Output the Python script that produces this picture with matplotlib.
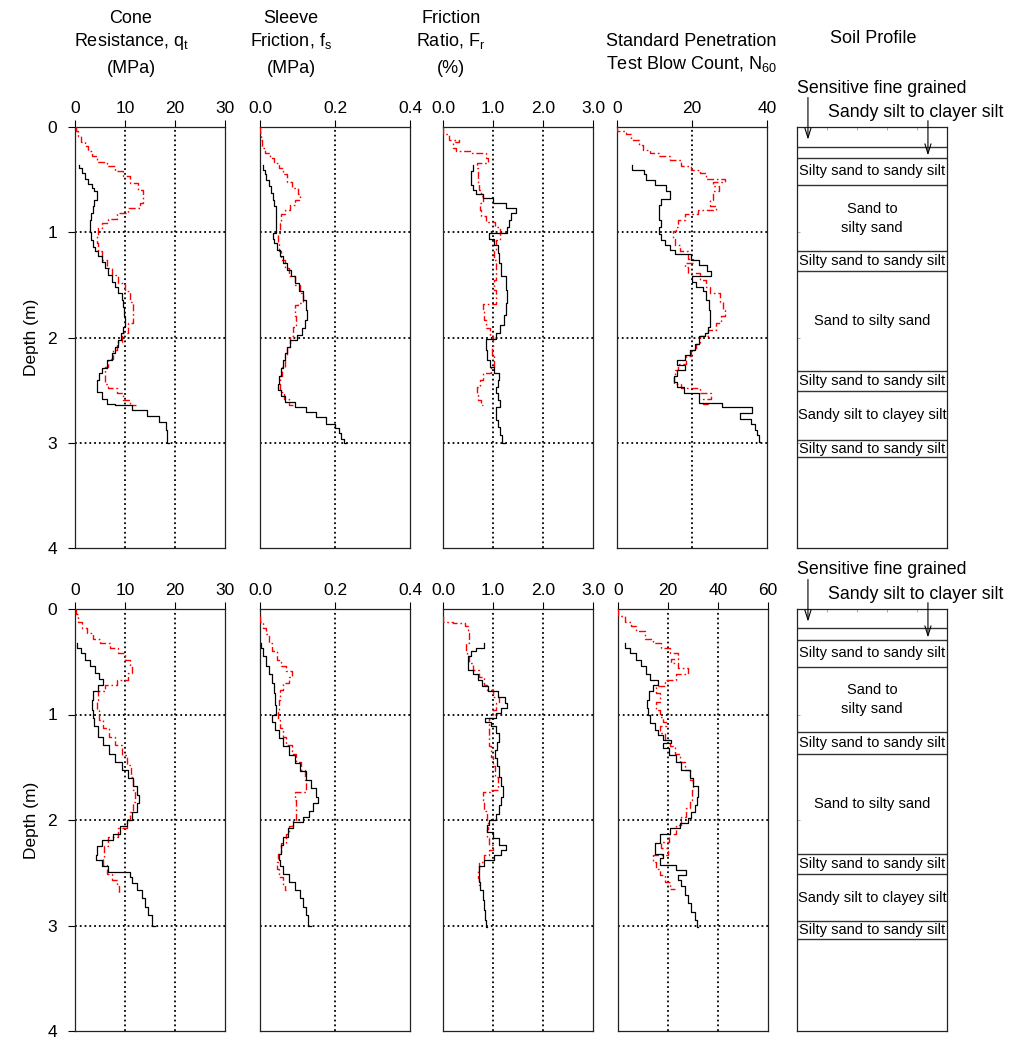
import matplotlib
matplotlib.use("Agg")
import matplotlib.pyplot as plt

plt.rcParams['font.family'] = ['Liberation Sans', 'DejaVu Sans']
plt.rcParams['mathtext.fontset'] = 'custom'
plt.rcParams['mathtext.rm'] = 'Liberation Sans'
plt.rcParams['mathtext.it'] = 'Liberation Sans'

# ---------------------------------------------------------------- data
# Upper site: cone resistance qt (MPa)
top_qt_meas_depth = [0.36, 0.39, 0.44, 0.49, 0.54, 0.58, 0.61, 0.69, 0.75, 0.82, 0.88, 1.00, 1.07, 1.14,
                     1.18, 1.23, 1.28, 1.34, 1.41, 1.47, 1.52, 1.58, 1.64, 1.71, 1.80, 1.90, 1.96, 2.02,
                     2.09, 2.15, 2.21, 2.29, 2.34, 2.40, 2.47, 2.52, 2.58, 2.63, 2.64, 2.68, 2.69, 2.74,
                     2.75, 2.80, 2.88, 3.00]
top_qt_meas = [0.86, 1.3, 2.0, 2.65, 3.3, 3.85, 4.3, 3.85, 3.5, 3.2, 3.0, 3.2, 3.65, 4.0,
               4.6, 5.3, 6.0, 6.6, 7.3, 8.0, 8.6, 9.3, 9.6, 9.8, 10.0, 9.6, 9.2, 8.6,
               8.0, 7.3, 6.3, 5.3, 4.8, 4.3, 4.45, 5.3, 6.3, 8.0, 11.3, 11.3, 14.4, 14.4,
               16.8, 18.25, 18.45, 18.8]
top_qt_est_depth = [0.00, 0.04, 0.09, 0.14, 0.18, 0.23, 0.28, 0.33, 0.37, 0.42, 0.47, 0.53, 0.60, 0.66,
                    0.72, 0.77, 0.82, 0.87, 0.91, 0.96, 1.02, 1.10, 1.18, 1.26, 1.34, 1.41, 1.48, 1.56,
                    1.66, 1.77, 1.86, 1.96, 2.04, 2.12, 2.20, 2.28, 2.37, 2.44, 2.48, 2.53, 2.59, 2.64]
top_qt_est = [0.2, 0.66, 1.1, 2.0, 2.65, 3.3, 4.3, 6.3, 8.0, 9.6, 10.9, 12.6, 13.6, 13.6,
              12.9, 10.6, 8.3, 6.6, 5.3, 4.6, 4.3, 4.6, 5.3, 6.3, 7.3, 8.6, 10.0, 10.9,
              11.5, 11.6, 10.6, 9.3, 8.3, 7.6, 6.6, 6.0, 6.0, 6.6, 8.3, 9.6, 10.9, 12.1]

# Upper site: sleeve friction fs (MPa)
top_fs_meas_depth = [0.36, 0.41, 0.45, 0.50, 0.56, 0.63, 0.69, 0.75, 0.82, 0.88, 0.95, 1.01, 1.06, 1.10,
                     1.17, 1.23, 1.29, 1.36, 1.42, 1.48, 1.56, 1.64, 1.74, 1.83, 1.91, 1.98, 2.02, 2.09,
                     2.15, 2.21, 2.29, 2.37, 2.44, 2.50, 2.56, 2.61, 2.66, 2.71, 2.76, 2.82, 2.86, 2.91,
                     2.96, 3.00]
top_fs_meas = [0.009, 0.012, 0.017, 0.024, 0.030, 0.035, 0.038, 0.042, 0.042, 0.042, 0.043, 0.035, 0.037, 0.044,
               0.052, 0.061, 0.072, 0.082, 0.093, 0.105, 0.115, 0.122, 0.126, 0.120, 0.111, 0.098, 0.079, 0.072,
               0.066, 0.060, 0.056, 0.050, 0.048, 0.056, 0.067, 0.093, 0.122, 0.150, 0.175, 0.201, 0.210, 0.216,
               0.224, 0.229]
top_fs_est_depth = [0.00, 0.06, 0.12, 0.20, 0.25, 0.29, 0.34, 0.39, 0.45, 0.52, 0.58, 0.64, 0.69, 0.74,
                    0.79, 0.83, 0.91, 1.01, 1.10, 1.18, 1.26, 1.34, 1.42, 1.50, 1.58, 1.67, 1.69, 1.80,
                    1.90, 1.99, 2.09, 2.18, 2.28, 2.37, 2.45, 2.52, 2.58, 2.64]
top_fs_est = [0.0, 0.002, 0.006, 0.012, 0.026, 0.037, 0.050, 0.061, 0.072, 0.085, 0.102, 0.107, 0.093, 0.080,
              0.067, 0.056, 0.052, 0.048, 0.050, 0.056, 0.067, 0.078, 0.093, 0.107, 0.115, 0.102, 0.093, 0.095,
              0.089, 0.080, 0.072, 0.067, 0.059, 0.052, 0.054, 0.063, 0.076, 0.089]

# Upper site: friction ratio Fr (%)
top_fr_meas_depth = [0.36, 0.42, 0.52, 0.55, 0.60, 0.64, 0.67, 0.72, 0.77, 0.82, 0.88, 0.95, 1.01, 1.06,
                     1.12, 1.20, 1.29, 1.42, 1.55, 1.67, 1.79, 1.88, 1.96, 2.01, 2.12, 2.21, 2.28, 2.34,
                     2.40, 2.47, 2.53, 2.59, 2.66, 2.72, 2.78, 2.85, 2.93, 3.00]
top_fr_meas = [0.60, 0.55, 0.55, 0.60, 0.65, 0.80, 1.0, 1.26, 1.45, 1.36, 1.31, 1.28, 0.92, 1.01,
               1.10, 1.12, 1.16, 1.25, 1.28, 1.26, 1.21, 1.14, 1.06, 0.85, 0.88, 0.93, 1.01, 1.12,
               1.10, 1.05, 1.10, 1.14, 1.06, 1.05, 1.10, 1.14, 1.18, 1.23]
top_fr_est_depth = [0.00, 0.07, 0.12, 0.14, 0.20, 0.23, 0.25, 0.29, 0.34, 0.39, 0.47, 0.53, 0.60, 0.66,
                    0.72, 0.79, 0.85, 0.90, 0.95, 1.01, 1.07, 1.17, 1.26, 1.36, 1.45, 1.55, 1.64, 1.68,
                    1.75, 1.83, 1.91, 1.99, 2.09, 2.18, 2.28, 2.34, 2.40, 2.47, 2.53, 2.59, 2.64]
top_fr_est = [0.0, 0.12, 0.32, 0.19, 0.25, 0.55, 0.86, 0.90, 0.67, 0.70, 0.69, 0.72, 0.76, 0.80,
              0.73, 0.76, 0.86, 1.03, 1.13, 1.13, 1.05, 1.01, 1.06, 1.05, 1.01, 1.06, 1.06, 0.80,
              0.82, 0.86, 0.93, 1.0, 0.98, 1.01, 0.96, 0.80, 0.73, 0.67, 0.70, 0.75, 0.80]

# Upper site: SPT blow count N60
top_n_meas_depth = [0.36, 0.41, 0.45, 0.50, 0.55, 0.61, 0.68, 0.74, 0.82, 0.88, 0.95, 1.02, 1.07, 1.12,
                    1.17, 1.21, 1.26, 1.31, 1.37, 1.42, 1.47, 1.52, 1.56, 1.64, 1.74, 1.83, 1.90, 1.96,
                    1.99, 2.06, 2.12, 2.17, 2.21, 2.26, 2.31, 2.37, 2.42, 2.47, 2.53, 2.58, 2.62, 2.66,
                    2.72, 2.77, 2.82, 2.88, 2.93, 2.99]
top_n_meas = [4.1, 7.1, 7.8, 10.0, 13.1, 14.0, 11.8, 11.2, 11.2, 11.8, 11.2, 11.8, 12.7, 14.0,
              15.4, 19.8, 21.9, 24.1, 25.1, 20.1, 21.0, 23.0, 23.8, 24.5, 24.9, 24.7, 24.3, 23.4,
              21.9, 20.7, 19.4, 18.0, 16.0, 18.0, 16.0, 15.1, 16.0, 17.8, 21.9, 21.9, 28.1, 36.1,
              32.7, 35.8, 36.7, 37.2, 37.9, 38.2]
top_n_est_depth = [0.00, 0.04, 0.07, 0.12, 0.17, 0.22, 0.25, 0.28, 0.31, 0.37, 0.41, 0.44, 0.49, 0.52,
                   0.56, 0.61, 0.69, 0.75, 0.79, 0.83, 0.88, 0.95, 0.99, 1.06, 1.12, 1.18, 1.25, 1.29,
                   1.33, 1.39, 1.45, 1.52, 1.58, 1.66, 1.74, 1.80, 1.86, 1.93, 1.99, 2.06, 2.12, 2.18,
                   2.25, 2.31, 2.37, 2.44, 2.48, 2.53, 2.58, 2.63]
top_n_est = [0.0, 2.5, 3.8, 5.9, 6.9, 8.7, 11.3, 14.0, 17.1, 19.8, 22.0, 23.8, 28.7, 25.6,
             27.2, 25.6, 24.7, 26.5, 21.6, 18.0, 16.3, 15.8, 14.9, 15.4, 16.7, 18.9, 20.2, 18.0,
             18.9, 22.0, 23.8, 24.7, 27.4, 28.2, 28.9, 27.8, 26.5, 24.3, 22.2, 21.0, 19.8, 18.3,
             16.2, 15.4, 15.1, 17.1, 22.0, 25.1, 23.0, 24.7]

# Lower site: cone resistance qt (MPa)
bot_qt_meas_depth = [0.32, 0.37, 0.42, 0.48, 0.54, 0.61, 0.66, 0.72, 0.78, 0.86, 0.96, 1.03, 1.11, 1.21,
                     1.29, 1.37, 1.45, 1.53, 1.60, 1.68, 1.76, 1.84, 1.92, 2.00, 2.06, 2.13, 2.19, 2.25,
                     2.33, 2.38, 2.44, 2.49, 2.54, 2.60, 2.66, 2.74, 2.82, 2.90, 3.00]
bot_qt_meas = [0.46, 1.13, 2.0, 3.0, 4.0, 4.85, 5.6, 4.6, 3.6, 3.3, 3.5, 3.85, 4.6, 5.6,
               6.8, 8.0, 9.3, 10.6, 11.6, 12.4, 12.8, 12.4, 11.3, 10.3, 9.0, 7.6, 5.3, 4.3,
               4.2, 5.3, 6.6, 10.9, 11.3, 12.4, 13.3, 13.9, 14.6, 15.3, 15.9]
bot_qt_est_depth = [0.00, 0.05, 0.12, 0.18, 0.23, 0.28, 0.32, 0.37, 0.42, 0.48, 0.54, 0.61, 0.67, 0.72,
                    0.78, 0.86, 0.96, 1.05, 1.13, 1.21, 1.29, 1.38, 1.48, 1.59, 1.72, 1.83, 1.92, 2.00,
                    2.08, 2.16, 2.25, 2.35, 2.43, 2.51, 2.57, 2.63, 2.70]
bot_qt_est = [0.2, 0.66, 1.3, 2.3, 3.65, 5.0, 7.0, 8.6, 10.0, 10.9, 11.3, 10.6, 8.3, 6.0,
              4.6, 4.3, 4.85, 5.6, 6.8, 8.0, 9.3, 10.3, 11.1, 11.6, 11.9, 11.6, 10.9, 10.3,
              8.6, 6.6, 5.8, 5.6, 6.3, 7.3, 8.3, 8.8, 8.96]

# Lower site: sleeve friction fs (MPa)
bot_fs_meas_depth = [0.32, 0.37, 0.45, 0.54, 0.62, 0.70, 0.80, 0.91, 1.00, 1.07, 1.15, 1.22, 1.30, 1.38,
                     1.46, 1.54, 1.62, 1.70, 1.78, 1.84, 1.91, 1.97, 2.02, 2.08, 2.16, 2.24, 2.32, 2.38,
                     2.44, 2.51, 2.59, 2.66, 2.74, 2.82, 2.90, 3.00]
bot_fs_meas = [0.003, 0.009, 0.016, 0.025, 0.033, 0.037, 0.040, 0.042, 0.033, 0.040, 0.051, 0.062, 0.078, 0.093,
               0.106, 0.122, 0.137, 0.150, 0.154, 0.141, 0.130, 0.115, 0.088, 0.075, 0.062, 0.057, 0.051, 0.053,
               0.062, 0.078, 0.093, 0.106, 0.115, 0.122, 0.128, 0.137]
bot_fs_est_depth = [0.07, 0.12, 0.18, 0.24, 0.32, 0.40, 0.48, 0.54, 0.59, 0.64, 0.70, 0.77, 0.86, 0.96,
                    1.05, 1.13, 1.21, 1.29, 1.37, 1.45, 1.53, 1.62, 1.68, 1.73, 1.81, 1.91, 2.00, 2.06,
                    2.13, 2.22, 2.32, 2.40, 2.46, 2.54, 2.62, 2.66]
bot_fs_est = [0.0, 0.007, 0.016, 0.025, 0.033, 0.046, 0.057, 0.070, 0.084, 0.078, 0.060, 0.053, 0.051, 0.048,
              0.053, 0.062, 0.070, 0.084, 0.097, 0.110, 0.119, 0.123, 0.122, 0.093, 0.095, 0.097, 0.088, 0.078,
              0.069, 0.057, 0.048, 0.044, 0.051, 0.060, 0.066, 0.069]

# Lower site: friction ratio Fr (%)
bot_fr_meas_depth = [0.32, 0.37, 0.40, 0.45, 0.53, 0.58, 0.62, 0.67, 0.73, 0.78, 0.83, 0.89, 0.94, 0.99,
                     1.03, 1.07, 1.11, 1.18, 1.26, 1.34, 1.41, 1.49, 1.59, 1.68, 1.78, 1.86, 1.94, 2.00,
                     2.05, 2.11, 2.17, 2.24, 2.28, 2.33, 2.38, 2.44, 2.51, 2.59, 2.66, 2.76, 2.85, 2.95,
                     3.01]
bot_fr_meas = [0.82, 0.65, 0.55, 0.49, 0.49, 0.59, 0.69, 0.77, 0.89, 1.09, 1.24, 1.27, 1.15, 1.05,
               0.84, 0.95, 1.05, 1.11, 1.07, 1.04, 1.07, 1.11, 1.15, 1.19, 1.15, 1.11, 1.05, 0.91,
               0.87, 1.0, 1.12, 1.25, 1.15, 1.02, 0.82, 0.72, 0.71, 0.73, 0.79, 0.82, 0.84, 0.85,
               0.87]
bot_fr_est_depth = [0.07, 0.12, 0.13, 0.16, 0.23, 0.32, 0.40, 0.45, 0.51, 0.58, 0.64, 0.72, 0.77, 0.83,
                    0.89, 0.96, 1.03, 1.11, 1.21, 1.30, 1.40, 1.49, 1.59, 1.72, 1.73, 1.81, 1.91, 2.00,
                    2.09, 2.17, 2.24, 2.28, 2.33, 2.40, 2.47, 2.55, 2.62]
bot_fr_est = [0.0, 0.19, 0.44, 0.49, 0.51, 0.45, 0.47, 0.52, 0.59, 0.71, 0.82, 0.87, 0.99, 1.12,
              1.05, 0.99, 0.92, 0.91, 0.92, 0.95, 1.0, 1.04, 1.09, 0.95, 0.79, 0.82, 0.87, 0.89,
              0.87, 0.92, 1.0, 0.91, 0.82, 0.72, 0.69, 0.71, 0.73]

# Lower site: SPT blow count N60
bot_n_meas_depth = [0.32, 0.37, 0.42, 0.48, 0.54, 0.62, 0.67, 0.72, 0.78, 0.86, 0.94, 1.00, 1.08, 1.15,
                    1.19, 1.24, 1.27, 1.32, 1.38, 1.45, 1.53, 1.60, 1.68, 1.78, 1.86, 1.92, 1.98, 2.03,
                    2.08, 2.13, 2.22, 2.32, 2.36, 2.43, 2.47, 2.52, 2.57, 2.63, 2.71, 2.79, 2.87, 2.95,
                    3.01]
bot_n_meas = [2.7, 4.9, 7.3, 9.3, 11.1, 12.7, 16.0, 14.0, 12.4, 11.6, 12.0, 12.9, 14.7, 16.0,
              18.0, 21.3, 18.0, 20.4, 23.3, 25.3, 28.7, 30.0, 32.0, 31.6, 30.7, 29.3, 28.0, 24.7,
              20.7, 16.7, 14.7, 18.0, 16.7, 23.1, 27.1, 24.0, 25.3, 26.7, 28.0, 29.3, 30.7, 31.6,
              32.0]
bot_n_est_depth = [0.00, 0.07, 0.12, 0.16, 0.21, 0.28, 0.32, 0.37, 0.42, 0.47, 0.51, 0.56, 0.62, 0.67,
                   0.73, 0.80, 0.88, 0.96, 1.02, 1.07, 1.11, 1.18, 1.24, 1.30, 1.37, 1.45, 1.53, 1.62,
                   1.72, 1.81, 1.89, 1.97, 2.05, 2.13, 2.21, 2.27, 2.33, 2.40, 2.46, 2.52, 2.59, 2.65]
bot_n_est = [0.0, 2.7, 5.3, 7.1, 10.7, 14.0, 17.3, 20.7, 24.0, 21.3, 24.0, 28.0, 23.3, 18.7,
             15.3, 16.7, 15.3, 16.7, 18.0, 19.3, 16.7, 18.7, 20.7, 22.7, 24.7, 26.7, 28.7, 30.0,
             29.7, 28.7, 27.3, 25.3, 23.3, 20.4, 17.3, 20.0, 14.0, 15.1, 16.7, 18.7, 20.7, 22.7]

# Soil profile layering (layer boundaries in m) and layer names
top_layer_bounds = [0.0, 0.19, 0.29, 0.55, 1.18, 1.37, 2.32, 2.51, 2.97, 3.14, 4.0]
bot_layer_bounds = [0.0, 0.18, 0.29, 0.55, 1.17, 1.37, 2.32, 2.51, 2.96, 3.13, 4.0]
layer_names = ["", "", "Silty sand to sandy silt", "Sand to\nsilty sand", "Silty sand to sandy silt",
               "Sand to silty sand", "Silty sand to sandy silt", "Sandy silt to clayey silt",
               "Silty sand to sandy silt", ""]
thin_layer_names = ["Sensitive fine grained", "Sandy silt to clayer silt"]

# Axis settings per column
col_limits_top = [30, 0.4, 3.0, 40]
col_limits_bot = [30, 0.4, 3.0, 60]
col_ticks_top = [[0, 10, 20, 30], [0.0, 0.2, 0.4], [0.0, 1.0, 2.0, 3.0], [0, 20, 40]]
col_ticks_bot = [[0, 10, 20, 30], [0.0, 0.2, 0.4], [0.0, 1.0, 2.0, 3.0], [0, 20, 40, 60]]
col_ticklabels_top = [["0", "10", "20", "30"], ["0.0", "0.2", "0.4"], ["0.0", "1.0", "2.0", "3.0"], ["0", "20", "40"]]
col_ticklabels_bot = [["0", "10", "20", "30"], ["0.0", "0.2", "0.4"], ["0.0", "1.0", "2.0", "3.0"], ["0", "20", "40", "60"]]
col_titles = [
    ["Cone", r"Resistance, q$_\mathregular{t}$", "(MPa)"],
    ["Sleeve", r"Friction, f$_\mathregular{s}$", "(MPa)"],
    ["Friction", r"Ratio, F$_\mathregular{r}$", "(%)"],
]
spt_title = ["Standard Penetration", r"Test Blow Count, N$_\mathregular{60}$"]
soil_title = "Soil Profile"

# ---------------------------------------------------------------- layout
W, H = 1011, 1042
fig = plt.figure(figsize=(W / 100, H / 100), dpi=100)


def box(x0, x1, ytop, ybot):
    return [x0 / W, 1 - ybot / H, (x1 - x0) / W, (ybot - ytop) / H]


col_x = [(75, 225), (260, 410), (443, 593), (617, 767)]
soil_x = (797, 947)
rows = [(127, 548), (609, 1031)]

red_dash = (0, (5, 2, 1.2, 2))
TICK_FS = 12.5
TITLE_FS = 13


def style_log_axes(ax, xmax, ticks, ticklabels, first):
    ax.set_xlim(0, xmax)
    ax.set_ylim(4, 0)
    ax.xaxis.tick_top()
    ax.set_xticks(ticks)
    ax.set_xticklabels(ticklabels)
    ax.tick_params(axis='x', direction='out', length=5, width=0.8, labelsize=TICK_FS, pad=3)
    ax.set_yticks([0, 1, 2, 3, 4])
    if first:
        ax.set_yticklabels(["0", "1", "2", "3", "4"])
        ax.tick_params(axis='y', direction='out', length=5, width=0.8, labelsize=TICK_FS, pad=8)
        ax.set_ylabel("Depth (m)", fontsize=12.5, labelpad=6)
    else:
        ax.tick_params(axis='y', left=False, labelleft=False)
    for t in ticks[1:-1]:
        ax.axvline(t, color='k', ls=':', lw=1.3, zorder=1)
    for d in (1, 2, 3):
        ax.axhline(d, color='k', ls=':', lw=1.3, zorder=1)
    for s in ax.spines.values():
        s.set_linewidth(0.9)
        s.set_color('#222222')


def draw_soil(ax, bounds):
    ax.set_xlim(0, 1)
    ax.set_ylim(4, 0)
    ax.set_xticks([0.2, 0.4, 0.6, 0.8])
    ax.set_yticks([1, 2, 3])
    ax.tick_params(axis='x', top=True, bottom=False, labeltop=False, labelbottom=False,
                   direction='in', length=2, width=0.5, color='#888888')
    ax.tick_params(axis='y', direction='in', length=2, width=0.5, color='#888888', labelleft=False)
    for s in ax.spines.values():
        s.set_linewidth(0.9)
        s.set_color('#222222')
    for b in bounds[1:-1]:
        ax.axhline(b, color='#333333', lw=1.0)
    for name, d0, d1 in zip(layer_names, bounds[:-1], bounds[1:]):
        if name:
            ax.text(0.5, (d0 + d1) / 2, name, ha='center', va='center', fontsize=10.5,
                    linespacing=1.45)
    ax.text(0.0, -0.37, thin_layer_names[0], ha='left', va='center', fontsize=12.8, clip_on=False)
    ax.text(0.207, -0.14, thin_layer_names[1], ha='left', va='center', fontsize=12.8, clip_on=False)
    arrow = dict(arrowstyle='->,head_length=0.7,head_width=0.22', lw=0.8, color='k', shrinkA=0, shrinkB=0)
    ax.annotate('', xy=(0.073, 0.12), xytext=(0.073, -0.28), arrowprops=arrow, annotation_clip=False)
    ax.annotate('', xy=(0.873, 0.27), xytext=(0.873, -0.06), arrowprops=arrow, annotation_clip=False)


series_rows = [
    [(top_qt_meas, top_qt_meas_depth, top_qt_est, top_qt_est_depth),
     (top_fs_meas, top_fs_meas_depth, top_fs_est, top_fs_est_depth),
     (top_fr_meas, top_fr_meas_depth, top_fr_est, top_fr_est_depth),
     (top_n_meas, top_n_meas_depth, top_n_est, top_n_est_depth)],
    [(bot_qt_meas, bot_qt_meas_depth, bot_qt_est, bot_qt_est_depth),
     (bot_fs_meas, bot_fs_meas_depth, bot_fs_est, bot_fs_est_depth),
     (bot_fr_meas, bot_fr_meas_depth, bot_fr_est, bot_fr_est_depth),
     (bot_n_meas, bot_n_meas_depth, bot_n_est, bot_n_est_depth)],
]
limits = [col_limits_top, col_limits_bot]
ticks = [col_ticks_top, col_ticks_bot]
ticklabels = [col_ticklabels_top, col_ticklabels_bot]
bounds = [top_layer_bounds, bot_layer_bounds]

for r, (ytop, ybot) in enumerate(rows):
    for c, (x0, x1) in enumerate(col_x):
        xx0, xx1 = (x0, x1) if r == 0 or c != 3 else (x0 + 1, x1 + 1)
        ax = fig.add_axes(box(xx0, xx1, ytop, ybot))
        style_log_axes(ax, limits[r][c], ticks[r][c], ticklabels[r][c], c == 0)
        meas, meas_d, est, est_d = series_rows[r][c]
        ax.plot(est, est_d, color='red', lw=1.0, ls=red_dash, drawstyle='steps-pre', zorder=3)
        ax.plot(meas, meas_d, color='black', lw=0.9, drawstyle='steps-pre', zorder=4)
    sax = fig.add_axes(box(soil_x[0], soil_x[1], ytop, ybot))
    draw_soil(sax, bounds[r])

# Column headings
title_x = [131, 291, 451]
for x, lines in zip(title_x, col_titles):
    for y, txt in zip((23, 46, 73), lines):
        fig.text(x / W, 1 - y / H, txt, ha='center', va='baseline', fontsize=TITLE_FS)
for y, txt in zip((46, 69), spt_title):
    fig.text(691 / W, 1 - y / H, txt, ha='center', va='baseline', fontsize=TITLE_FS)
fig.text(873 / W, 1 - 43 / H, soil_title, ha='center', va='baseline', fontsize=TITLE_FS)

fig.savefig("out.png", dpi=100)
